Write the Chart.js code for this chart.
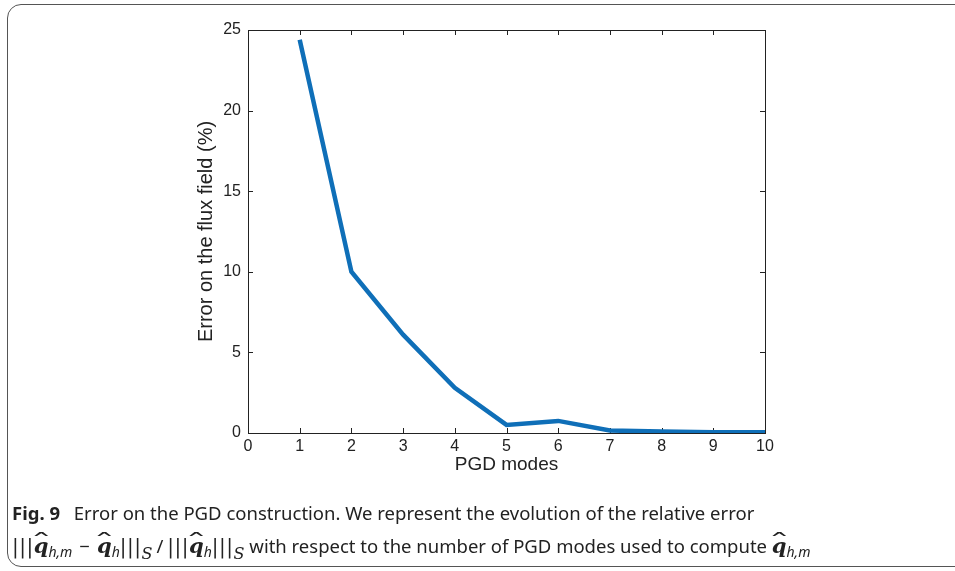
<!DOCTYPE html>
<html>
<head>
<meta charset="utf-8">
<title>Error on the PGD construction</title>
<script src="https://cdn.jsdelivr.net/npm/chart.js@4.4.1/dist/chart.umd.min.js"></script>
<style>
  html, body { margin: 0; padding: 0; background: #fff; }
  #wrap { position: relative; width: 955px; height: 571px; overflow: hidden; }
  #frame {
    position: absolute; left: 7px; top: 4px; width: 990px; height: 563px;
    border: 1.5px solid #555; border-radius: 14px; box-sizing: border-box;
  }
  #plot { position: absolute; left: 0; top: 0; }
  #caption {
    position: absolute; left: 12px; top: 496px;
    font-family: "Noto Sans", sans-serif; font-size: 18.5px; color: #222;
    line-height: 33px; white-space: nowrap;
  }
  #caption b { font-weight: 700; margin-right: 9px; }
  .bars { font-family: "DejaVu Serif", serif; letter-spacing: 0.5px; font-size: 20px; }
  .hq {
    position: relative; display: inline-block;
    font-family: "DejaVu Serif", serif; font-weight: 700; font-style: italic; font-size: 21px;
  }
  .hq::after {
    content: "\02C6"; position: absolute; left: 2px; top: -3px;
    font-style: normal; font-weight: 400; transform: scaleX(2.1);
  }
  .sub { font-style: italic; font-size: 14px; position: relative; top: 4px; }
  .cal { font-family: "DejaVu Serif", serif; font-style: italic; font-size: 16px; position: relative; top: 6px; }
  .op { margin: 0 7px; }
  .sl { margin: 0 4px; }
</style>
</head>
<body>
<div id="wrap">
  <div id="frame"></div>
  <canvas id="plot" width="955" height="571"></canvas>
  <div id="caption">
    <div><b>Fig. 9</b> Error on the PGD construction. We represent the evolution of the relative error</div>
    <div><span class="bars">|||</span><span class="hq">q</span><span class="sub">h,m</span><span class="op">−</span><span class="hq">q</span><span class="sub">h</span><span class="bars">|||</span><span class="cal">S</span><span class="sl">/</span><span class="bars">|||</span><span class="hq">q</span><span class="sub">h</span><span class="bars">|||</span><span class="cal">S</span> with respect to the number of PGD modes used to compute <span class="hq">q</span><span class="sub">h,m</span></div>
  </div>
</div>
<script>
// number of PGD modes and relative error of the flux field (%)
const modes = [1, 2, 3, 4, 5, 6, 7, 8, 9, 10];
const errorPct = [24.4, 10.0, 6.1, 2.8, 0.5, 0.75, 0.15, 0.1, 0.05, 0.05];
const xTicks = [0, 1, 2, 3, 4, 5, 6, 7, 8, 9, 10];
const yTicks = [0, 5, 10, 15, 20, 25];

const axisColor = "#222";
const tickFont = { family: "Liberation Sans", size: 16 };

// MATLAB style box with ticks pointing inwards on all four sides
const boxTicks = {
  id: "boxTicks",
  beforeDatasetsDraw(chart) {
    const { ctx, chartArea: a, scales } = chart;
    const len = 5;
    ctx.save();
    ctx.strokeStyle = axisColor;
    ctx.lineWidth = 1;
    ctx.beginPath();
    scales.x.ticks.forEach((t) => {
      const px = Math.round(scales.x.getPixelForValue(t.value)) + 0.5;
      ctx.moveTo(px, a.bottom);
      ctx.lineTo(px, a.bottom - len);
      ctx.moveTo(px, a.top);
      ctx.lineTo(px, a.top + len);
    });
    scales.y.ticks.forEach((t) => {
      const py = Math.round(scales.y.getPixelForValue(t.value)) + 0.5;
      ctx.moveTo(a.left, py);
      ctx.lineTo(a.left + len, py);
      ctx.moveTo(a.right, py);
      ctx.lineTo(a.right - len, py);
    });
    ctx.stroke();
    ctx.strokeRect(Math.round(a.left) + 0.5, Math.round(a.top) + 0.5,
      Math.round(a.right - a.left), Math.round(a.bottom - a.top));
    ctx.restore();
  },
};

new Chart(document.getElementById("plot"), {
  type: "line",
  data: {
    labels: modes,
    datasets: [
      {
        data: modes.map((m, i) => ({ x: m, y: errorPct[i] })),
        borderColor: "#0f6fb8",
        borderWidth: 4.5,
        pointRadius: 0,
        tension: 0,
        fill: false,
      },
    ],
  },
  options: {
    responsive: false,
    animation: false,
    events: [],
    layout: { padding: { left: 190, right: 190, top: 30, bottom: 91 } },
    plugins: { legend: { display: false }, tooltip: { enabled: false } },
    scales: {
      x: {
        type: "linear",
        min: 0,
        max: 10,
        afterBuildTicks: (s) => { s.ticks = xTicks.map((v) => ({ value: v })); },
        afterFit: (s) => { s.height = 47; },
        grid: { display: false, drawTicks: false },
        border: { display: false },
        ticks: { color: axisColor, font: tickFont, padding: 4, maxRotation: 0 },
        title: {
          display: true,
          text: "PGD modes",
          color: axisColor,
          font: { family: "Liberation Sans", size: 19 },
        },
      },
      y: {
        min: 0,
        max: 25,
        afterBuildTicks: (s) => { s.ticks = yTicks.map((v) => ({ value: v })); },
        afterFit: (s) => { s.width = 58; },
        grid: { display: false, drawTicks: false },
        border: { display: false },
        ticks: { color: axisColor, font: tickFont, padding: 7 },
        title: {
          display: true,
          text: "Error on the flux field (%)",
          color: axisColor,
          font: { family: "Liberation Sans", size: 20 },
        },
      },
    },
  },
  plugins: [boxTicks],
});
</script>
</body>
</html>
